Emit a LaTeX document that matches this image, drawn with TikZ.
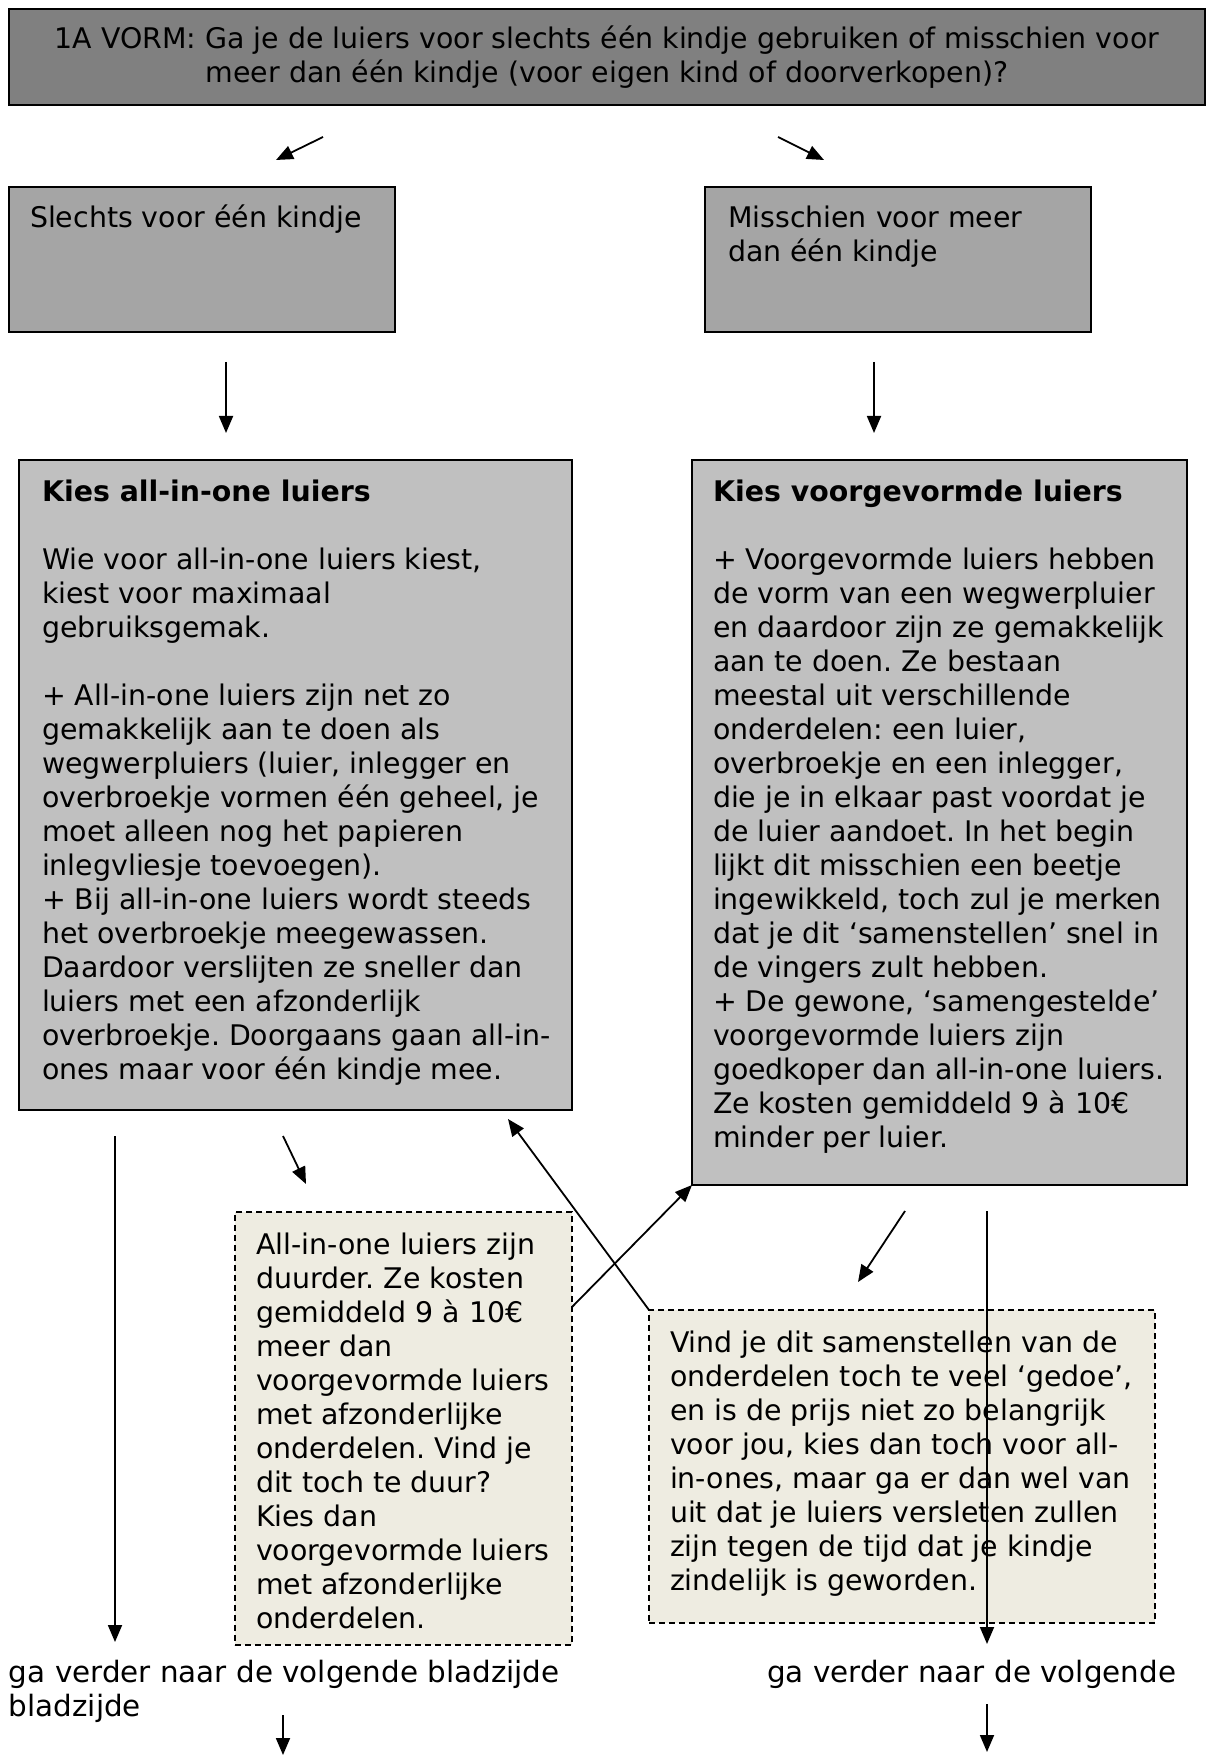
\documentclass[tikz,border=0pt]{standalone}
\usepackage{fontspec}
\setmainfont{DejaVu Sans}
\usetikzlibrary{arrows.meta}
\frenchspacing

\definecolor{kopgrijs}{HTML}{808080}
\definecolor{keuzegrijs}{HTML}{A5A5A5}
\definecolor{infogrijs}{HTML}{C0C0C0}
\definecolor{tipbeige}{HTML}{EEECE1}

\begin{document}
\begin{tikzpicture}[x=0.5pt, y=-0.5pt,
    every node/.style={font=\fontsize{14.2pt}{17pt}\selectfont, inner sep=0pt, outer sep=0pt},
    kopbox/.style={draw, line width=1.2pt, fill=kopgrijs, align=center},
    keuzebox/.style={draw, line width=0.8pt, fill=keuzegrijs, anchor=north west},
    infobox/.style={draw, line width=0.6pt, fill=infogrijs, anchor=north west},
    tipbox/.style={draw, dash pattern=on 3pt off 2pt, line width=0.6pt, fill=tipbeige, anchor=north west},
    tekst/.style={anchor=north west, align=left},
    verder/.style={tekst, font=\fontsize{14.7pt}{17pt}\selectfont},
    pijl/.style={-{Triangle[length=8.5pt, width=7pt]}, line width=0.9pt},
]

\useasboundingbox (0,0) rectangle (1209,1764);

% === Vraag bovenaan ===
\node[kopbox, minimum width=598pt, minimum height=48pt] (vraag) at (607,57)
  {1A VORM: Ga je de luiers voor slechts één kindje gebruiken of misschien voor\\
   meer dan één kindje (voor eigen kind of doorverkopen)?};

% === Twee keuzes ===
\node[keuzebox, minimum width=193pt, minimum height=72.5pt] (een) at (9,187) {};
\node[tekst] (eentekst) at (30,204) {\strut Slechts voor één kindje};

\node[keuzebox, minimum width=193pt, minimum height=72.5pt] (meer) at (705,187) {};
\node[tekst] (meertekst) at (728,204) {\strut Misschien voor meer\\dan één kindje};

% === Uitleg all-in-one ===
\node[infobox, minimum width=276.5pt, minimum height=325pt] (aio) at (19,460) {};
\node[tekst] (aiotekst) at (42,478) {\strut\textbf{Kies all-in-one luiers}\\[17pt]
Wie voor all-in-one luiers kiest,\\
kiest voor maximaal\\
gebruiksgemak.\\[17pt]
+ All-in-one luiers zijn net zo\\
gemakkelijk aan te doen als\\
wegwerpluiers (luier, inlegger en\\
overbroekje vormen één geheel, je\\
moet alleen nog het papieren\\
inlegvliesje toevoegen).\\
+ Bij all-in-one luiers wordt steeds\\
het overbroekje meegewassen.\\
Daardoor verslijten ze sneller dan\\
luiers met een afzonderlijk\\
overbroekje. Doorgaans gaan all-in-\\
ones maar voor één kindje mee.};

% === Uitleg voorgevormd ===
\node[infobox, minimum width=247.5pt, minimum height=362.5pt] (voorg) at (692,460) {};
\node[tekst] (voorgtekst) at (713,478) {\strut\textbf{Kies voorgevormde luiers}\\[17pt]
+ Voorgevormde luiers hebben\\
de vorm van een wegwerpluier\\
en daardoor zijn ze gemakkelijk\\
aan te doen. Ze bestaan\\
meestal uit verschillende\\
onderdelen: een luier,\\
overbroekje en een inlegger,\\
die je in elkaar past voordat je\\
de luier aandoet. In het begin\\
lijkt dit misschien een beetje\\
ingewikkeld, toch zul je merken\\
dat je dit ‘samenstellen’ snel in\\
de vingers zult hebben.\\
+ De gewone, ‘samengestelde’\\
voorgevormde luiers zijn\\
goedkoper dan all-in-one luiers.\\
Ze kosten gemiddeld 9 à 10€\\
minder per luier.};

% === Tips (gestippeld) ===
\node[tipbox, minimum width=168.5pt, minimum height=216.5pt] (duur) at (235,1212) {};
\node[tekst] (duurtekst) at (256,1231) {\strut All-in-one luiers zijn\\
duurder. Ze kosten\\
gemiddeld 9 à 10€\\
meer dan\\
voorgevormde luiers\\
met afzonderlijke\\
onderdelen. Vind je\\
dit toch te duur?\\
Kies dan\\
voorgevormde luiers\\
met afzonderlijke\\
onderdelen.};

\node[tipbox, minimum width=253pt, minimum height=156.5pt] (gedoe) at (649,1310) {};
\node[tekst] (gedoetekst) at (670,1329) {\strut Vind je dit samenstellen van de\\
onderdelen toch te veel ‘gedoe’,\\
en is de prijs niet zo belangrijk\\
voor jou, kies dan toch voor all-\\
in-ones, maar ga er dan wel van\\
uit dat je luiers versleten zullen\\
zijn tegen de tijd dat je kindje\\
zindelijk is geworden.};

% === Verder ===
\node[verder] (verderL) at (9,1659) {\strut ga verder naar de volgende bladzijde\\bladzijde};
\node[verder] (verderR) at (767,1659) {\strut ga verder naar de volgende};

% === Losse pijlpunten ===
\coordinate (p1a) at (323,137);  \coordinate (p1b) at (276,160);
\coordinate (p2a) at (778,137);  \coordinate (p2b) at (824,160);
\coordinate (p3a) at (226,362);  \coordinate (p3b) at (226,433);
\coordinate (p4a) at (874,362);  \coordinate (p4b) at (874,433);
\coordinate (p5a) at (115,1136); \coordinate (p5b) at (115,1642);
\coordinate (p6a) at (283,1136); \coordinate (p6b) at (306,1184);
\coordinate (p7b) at (508,1119);
\coordinate (p8a) at (905,1211); \coordinate (p8b) at (858,1282);
\coordinate (p9a) at (987,1211); \coordinate (p9b) at (987,1644);
\coordinate (p10a) at (283,1715); \coordinate (p10b) at (283,1755);
\coordinate (p11a) at (987,1704); \coordinate (p11b) at (987,1752);

\draw[pijl] (p1a) -- (p1b);
\draw[pijl] (p2a) -- (p2b);
\draw[pijl] (p3a) -- (p3b);
\draw[pijl] (p4a) -- (p4b);
\draw[pijl] (p5a) -- (p5b);
\draw[pijl] (p6a) -- (p6b);
\draw[pijl] ([yshift=60.75pt]duur.east) -- (voorg.south west);
\draw[pijl] (gedoe.north west) -- (p7b);
\draw[pijl] (p8a) -- (p8b);
\draw[pijl] (p9a) -- (p9b);
\draw[pijl] (p10a) -- (p10b);
\draw[pijl] (p11a) -- (p11b);

\end{tikzpicture}
\end{document}
